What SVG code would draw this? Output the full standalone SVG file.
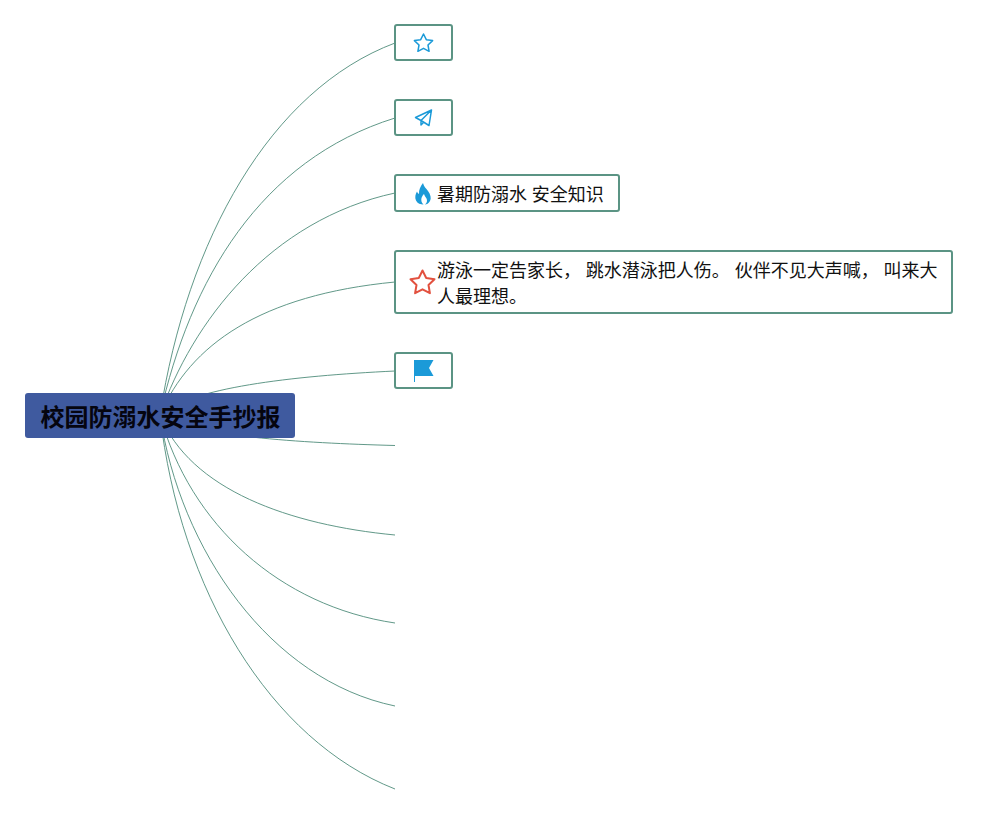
<svg xmlns="http://www.w3.org/2000/svg" width="997" height="814" viewBox="0 0 997 814">
<style>
.c{fill:none;stroke:#4f8c7a;stroke-width:.9}
.n{fill:#fff;stroke:#5b9484;stroke-width:2}
.t{font-family:"Noto Sans CJK SC","Liberation Sans",sans-serif;font-size:18px;fill:#111;word-spacing:.8px}
.o{fill:none;stroke:#1b9ad8;stroke-width:1.5;stroke-linejoin:round}
</style>
<rect width="997" height="814" fill="#fff"/>
<g id="connectors">
<path class="c" d="M160 415C187 240 270 90 395 43"/>
<path class="c" d="M160 415C190 280 260 160 395 118"/>
<path class="c" d="M160 415C192 322 270 220 395 193"/>
<path class="c" d="M160 415C190 345 260 295 395 282"/>
<path class="c" d="M160 415C190 388 290 376 395 371"/>
<path class="c" d="M160 415C190 436 300 443 395 445.500"/>
<path class="c" d="M160 415C190 490 290 525 395 535"/>
<path class="c" d="M160 415C190 525 280 606 395 623"/>
<path class="c" d="M160 415C180 550 270 680 395 706"/>
<path class="c" d="M160 415C180 590 270 740 395 789"/>
</g>
<g id="root">
<rect x="25" y="393" width="270" height="45" rx="3" fill="#3f5a9f"/>
<text x="160.500" y="426" text-anchor="middle" font-family="'Noto Sans CJK SC','Liberation Sans',sans-serif" font-size="24" font-weight="700" fill="#05050f">校园防溺水安全手抄报</text>
</g>
<g id="node-star">
<rect class="n" x="395" y="25" width="57" height="35" rx="2"/>
<path class="o" d="M423.500 34l2.800 5.700 6.300.9-4.600 4.400 1.100 6.300-5.600-3-5.600 3 1.100-6.300-4.600-4.400 6.300-.9z"/>
</g>
<g id="node-plane">
<rect class="n" x="395" y="100" width="57" height="35" rx="2"/>
<path class="o" d="M431.500 110l-16 7.500 5.500 3 8 5zM431.500 110l-10.500 10.500v4.500l2.500-2.500"/>
</g>
<g id="node-fire">
<rect class="n" x="395" y="175" width="224" height="36" rx="2"/>
<path fill="#1b9ad8" d="M423 183c1 4 3 5 5 8 2.500 3.500 3.500 7 2 10-1.200 2.500-3.500 3.500-5 3.500 2-1.500 2.500-4 1.500-6-.7-1.500-2-2.500-2.500-4.500-1 1-2 2.500-2.500 4-.7 2.500.3 5 2 6.500-3 0-6-1-7.500-4-1.500-3-.5-6.500 1-9 .4 1 1 2 2 2.500-.3-4 1.500-8 4-11z"/>
<text class="t" x="437" y="200.500">暑期防溺水 安全知识</text>
</g>
<g id="node-tip">
<rect class="n" x="395" y="251" width="557" height="62" rx="2"/>
<path fill="none" stroke="#e2513f" stroke-width="2" stroke-linejoin="round" d="M422.500 270.500l3.700 7.500 8.300 1.200-6 5.800 1.400 8.200-7.400-3.900-7.400 3.900 1.400-8.200-6-5.800 8.300-1.200z"/>
<text class="t" x="437" y="276.500">游泳一定告家长， 跳水潜泳把人伤。 伙伴不见大声喊， 叫来大</text>
<text class="t" x="437" y="302.500">人最理想。</text>
</g>
<g id="node-flag">
<rect class="n" x="395" y="353" width="57" height="35" rx="2"/>
<path fill="#1b9ad8" d="M414 360h19.500l-4.500 8 4.500 8H415v6h-1z"/>
</g>
</svg>
